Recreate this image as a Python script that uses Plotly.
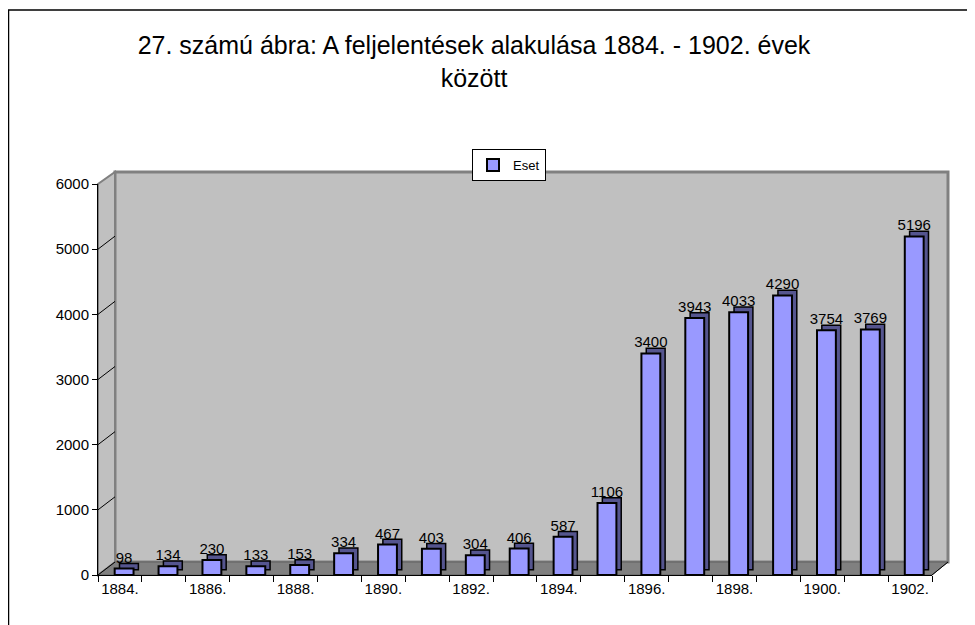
import plotly.graph_objects as go

# ---- data ----
years = [1884, 1885, 1886, 1887, 1888, 1889, 1890, 1891, 1892, 1893,
         1894, 1895, 1896, 1897, 1898, 1899, 1900, 1901, 1902]
eset = [98, 134, 230, 133, 153, 334, 467, 403, 304, 406,
        587, 1106, 3400, 3943, 4033, 4290, 3754, 3769, 5196]
tick_years = [1884, 1886, 1888, 1890, 1892, 1894, 1896, 1898, 1900, 1902]
tick_labels = ["1884.", "1886.", "1888.", "1890.", "1892.", "1894.",
               "1896.", "1898.", "1900.", "1902."]
y_ticks = [0, 1000, 2000, 3000, 4000, 5000, 6000]
series_name = "Eset"
title_text = "27. számú ábra: A feljelentések alakulása 1884. - 1902. évek<br>között"

# ---- geometry (screen pixels; page body has an 8px margin) ----
OFF = 8
W, H = 975, 625
L, R, T, B = 98 - OFF, 948 - OFF, 172 - OFF, 575 - OFF
FRONT_R, FRONT_T = 932 - OFF, 184 - OFF
BACK_L, BACK_B = 115 - OFF, 562 - OFF
PW, PH = R - L, B - T


def px(x):
    return (x - L) / PW


def py(y):
    return (B - y) / PH


FONT = "Arial, 'Liberation Sans', sans-serif"
depth_units = (B - BACK_B) / (B - FRONT_T) * 6000

fig = go.Figure()

# side / back faces of the 3D bars
fig.add_trace(go.Bar(
    x=years, y=eset, base=[80] * len(eset), width=0.43, offset=-0.01,
    marker=dict(color="#55558f", line=dict(color="black", width=1.5)),
    xaxis="x2", yaxis="y2", showlegend=False, hoverinfo="skip",
))
# front faces
fig.add_trace(go.Bar(
    x=years, y=eset, width=0.43, offset=-0.12, name=series_name,
    marker=dict(color="#9999ff", line=dict(color="black", width=2)),
    text=[str(v) for v in eset], textposition="outside",
    constraintext="none", textangle=0,
    textfont=dict(family=FONT, size=15, color="black"),
    cliponaxis=False,
    xaxis="x2", yaxis="y2",
))

shapes = []
shapes.append(dict(type="rect", xref="paper", yref="paper",
                   x0=px(BACK_L), x1=px(R), y0=py(BACK_B), y1=py(T),
                   fillcolor="#c0c0c0", line=dict(color="#808080", width=3),
                   layer="below"))
shapes.append(dict(type="path", xref="paper", yref="paper",
                   path=f"M {px(L)} {py(B)} L {px(BACK_L)} {py(BACK_B)} L {px(BACK_L)} {py(T)} L {px(L)} {py(FRONT_T)} Z",
                   fillcolor="#c0c0c0", line=dict(color="#808080", width=2),
                   layer="below"))
shapes.append(dict(type="path", xref="paper", yref="paper",
                   path=f"M {px(L)} {py(B)} L {px(BACK_L)} {py(BACK_B)} L {px(R)} {py(BACK_B)} L {px(FRONT_R)} {py(B)} Z",
                   fillcolor="#808080", line=dict(color="#606060", width=1),
                   layer="below"))
for v in y_ticks:
    shapes.append(dict(type="line", xref="paper", yref="y2",
                       x0=px(L), x1=px(BACK_L), y0=v, y1=v + depth_units,
                       line=dict(color="black", width=1), layer="below"))
shapes.append(dict(type="line", xref="paper", yref="paper",
                   x0=px(FRONT_R), x1=px(R), y0=py(B), y1=py(BACK_B),
                   line=dict(color="black", width=1)))
# outer chart border
shapes.append(dict(type="rect", xref="paper", yref="paper",
                   x0=px(0.5), x1=px(W + 20), y0=py(H + 20), y1=py(2),
                   line=dict(color="black", width=1.5), fillcolor="rgba(0,0,0,0)",
                   layer="below"))

fig.update_layout(
    width=W, height=H,
    margin=dict(l=L, r=W - R, t=T, b=H - B, pad=0),
    paper_bgcolor="white",
    plot_bgcolor="rgba(0,0,0,0)",
    barmode="overlay",
    font=dict(family=FONT, size=15, color="black"),
    title=dict(text=title_text, x=(474 - OFF) / W, xanchor="center",
               y=1 - 46 / H, yanchor="top", yref="container",
               font=dict(family=FONT, size=25, color="black")),
    legend=dict(x=px(472 - OFF), y=py(149 - OFF), xanchor="left", yanchor="top",
                bgcolor="white", bordercolor="black", borderwidth=1,
                font=dict(family=FONT, size=13, color="black"),
                itemwidth=30, tracegroupgap=0),
    showlegend=True,
    xaxis=dict(domain=[px(BACK_L), 1], range=[0, 1], visible=False,
               fixedrange=True),
    yaxis=dict(domain=[py(BACK_B), 1], range=[0, 6000], tickvals=y_ticks,
               showgrid=True, gridcolor="black", gridwidth=1,
               showticklabels=False, ticks="", showline=False, zeroline=False),
    xaxis2=dict(domain=[0, px(FRONT_R)], anchor="y2", range=[1883.5, 1902.5],
                tickvals=tick_years, ticktext=tick_labels, ticks="",
                showgrid=False, zeroline=False,
                showline=True, linecolor="black", linewidth=1,
                tickfont=dict(family=FONT, size=15, color="black"),
                minor=dict(tick0=1883.5, dtick=1, ticks="outside", ticklen=6,
                           tickcolor="black", showgrid=False)),
    yaxis2=dict(domain=[0, py(FRONT_T)], anchor="x2", range=[0, 6000],
                tickvals=y_ticks, ticks="outside", ticklen=5, tickcolor="black",
                showgrid=False, zeroline=False,
                showline=True, linecolor="black", linewidth=1,
                tickfont=dict(family=FONT, size=15, color="black")),
    shapes=shapes,
)

fig.write_html("out.html")
